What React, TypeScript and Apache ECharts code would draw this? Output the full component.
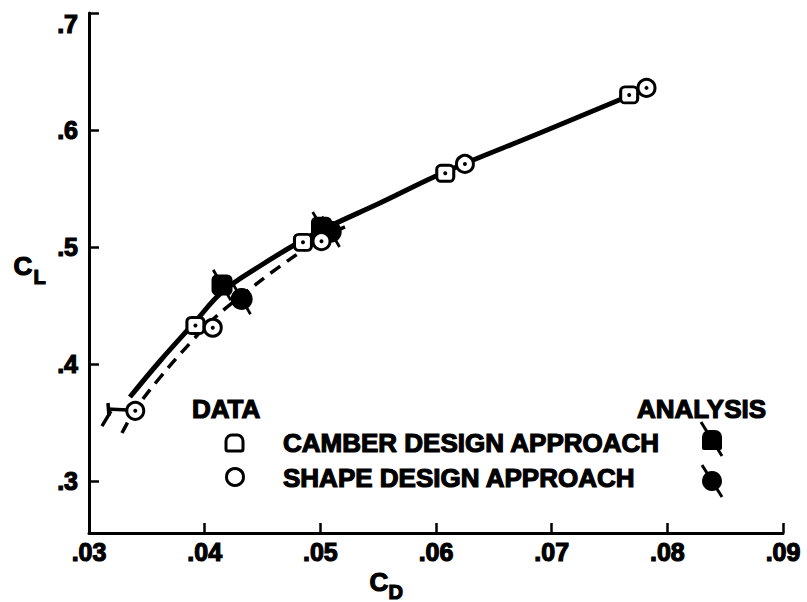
import React, { useEffect, useRef } from 'react';
import * as echarts from 'echarts';

// Axis ticks
const xTickValues = [0.03, 0.04, 0.05, 0.06, 0.07, 0.08, 0.09];
const xTickLabels = ['.03', '.04', '.05', '.06', '.07', '.08', '.09'];
const yTickValues = [0.3, 0.4, 0.5, 0.6, 0.7];
const yTickLabels = ['.3', '.4', '.5', '.6', '.7'];

// Data: camber design approach (open squares)
const camberCD = [0.0392, 0.0485, 0.0608, 0.0767];
const camberCL = [0.433, 0.504, 0.563, 0.63];
// Data: shape design approach (open circles)
const shapeCD = [0.034, 0.0407, 0.0501, 0.0625, 0.0782];
const shapeCL = [0.36, 0.431, 0.505, 0.571, 0.636];
// Analysis (filled, flagged)
const camberAnalysisCD = [0.0415, 0.0501];
const camberAnalysisCL = [0.4675, 0.517];
const shapeAnalysisCD = [0.0432, 0.0509];
const shapeAnalysisCL = [0.4556, 0.513];

// Faired curves
const solidCD = [0.03354, 0.03614, 0.03916, 0.0415, 0.04478, 0.0485, 0.05083, 0.05515, 0.06077, 0.06898, 0.07667];
const solidCL = [0.3718, 0.4026, 0.4359, 0.4615, 0.4838, 0.506, 0.5179, 0.5376, 0.5641, 0.5974, 0.6291];
const dashedCD = [0.03285, 0.03398, 0.03614, 0.03873, 0.04072, 0.04322, 0.04651, 0.04997, 0.05213];
const dashedCL = [0.341, 0.3607, 0.3885, 0.4178, 0.4382, 0.4587, 0.4835, 0.5063, 0.5172];

// Flag strokes at the lowest point (start/end pairs)
const flagStartCD = [0.03156, 0.0319, 0.03164];
const flagStartCL = [0.3615, 0.3598, 0.3667];
const flagEndCD = [0.03337, 0.03112, 0.03173];
const flagEndCL = [0.3607, 0.347, 0.3556];

const Y_MIN = 0.2556;
const Y_MAX = 0.7;
const X_MIN = 0.03;
const X_MAX = 0.09;

const FONT = 'Liberation Sans';
const TICK_FS = 25;

const zip = (a: number[], b: number[]) => a.map((v, i) => [v, b[i]]);

const labelFor = (vals: number[], labels: string[]) => (v: number) => {
  for (let i = 0; i < vals.length; i++) {
    if (Math.abs(vals[i] - v) < 1e-6) return labels[i];
  }
  return '';
};

const flagSymbol = 'path://M0 1.6 L2.6 0 L22 30.4 L19.4 32 Z';

export default function App() {
  const ref = useRef<HTMLDivElement>(null);
  useEffect(() => {
    if (!ref.current) return;
    const chart = echarts.init(ref.current, null, { renderer: 'svg' });
    const yLabel = labelFor(yTickValues, yTickLabels);
    const xLabel = labelFor(xTickValues, xTickLabels);
    const heavy = { stroke: '#000', lineWidth: 1.2 };
    const option: any = {
      animation: false,
      backgroundColor: '#fff',
      textStyle: { fontFamily: FONT, fontSize: TICK_FS, fontWeight: 'bold', color: '#000' },
      grid: { left: 89, top: 13, width: 694, height: 520, containLabel: false },
      xAxis: {
        type: 'value',
        min: X_MIN,
        max: X_MAX,
        interval: 0.01,
        axisLine: { show: true, onZero: false, lineStyle: { color: '#000', width: 3 } },
        axisTick: { show: true, inside: true, length: 10, lineStyle: { color: '#000', width: 2.5 } },
        axisLabel: {
          formatter: (v: number) => xLabel(v),
          color: '#000',
          fontSize: TICK_FS,
          fontWeight: 'bold',
          fontFamily: FONT,
          textBorderColor: '#000',
          textBorderWidth: 1.2,
          margin: 6,
          showMinLabel: true,
          showMaxLabel: true,
        },
        splitLine: { show: false },
      },
      yAxis: {
        type: 'value',
        min: Y_MIN,
        max: Y_MAX,
        splitNumber: 5,
        axisLine: { show: true, onZero: false, lineStyle: { color: '#000', width: 3 } },
        axisTick: { show: true, inside: true, length: 10, lineStyle: { color: '#000', width: 2.5 } },
        axisLabel: {
          formatter: (v: number) => (Math.abs(v - 0.7) < 1e-6 ? '{top|' + yLabel(v) + '}' : yLabel(v)),
          rich: {
            top: {
              fontSize: TICK_FS,
              fontWeight: 'bold',
              fontFamily: FONT,
              color: '#000',
              textBorderColor: '#000',
              textBorderWidth: 1.2,
              padding: [22, 0, 0, 0],
            },
          },
          color: '#000',
          fontSize: TICK_FS,
          fontWeight: 'bold',
          fontFamily: FONT,
          textBorderColor: '#000',
          textBorderWidth: 1.2,
          margin: 11,
          showMinLabel: true,
          showMaxLabel: true,
        },
        splitLine: { show: false },
      },
      series: [
        {
          type: 'line',
          data: zip(solidCD, solidCL),
          smooth: 0.4,
          symbol: 'none',
          lineStyle: { color: '#000', width: 5 },
          z: 2,
        },
        {
          type: 'line',
          data: zip(dashedCD, dashedCL),
          smooth: 0.4,
          symbol: 'none',
          lineStyle: { color: '#000', width: 3.5, type: [12, 8] },
          z: 2,
        },
        {
          type: 'lines',
          coordinateSystem: 'cartesian2d',
          data: flagStartCD.map((v, i) => ({
            coords: [
              [v, flagStartCL[i]],
              [flagEndCD[i], flagEndCL[i]],
            ],
          })),
          lineStyle: { color: '#000', width: 3.5, opacity: 1 },
          z: 2,
        },
        // analysis flags
        {
          type: 'scatter',
          data: zip(camberAnalysisCD, camberAnalysisCL).concat(zip(shapeAnalysisCD, shapeAnalysisCL)),
          symbol: flagSymbol,
          symbolSize: [20, 32],
          itemStyle: { color: '#000', opacity: 1 },
          z: 3,
        },
        {
          type: 'scatter',
          data: zip(camberAnalysisCD, camberAnalysisCL),
          symbol: 'roundRect',
          symbolSize: 21,
          itemStyle: { color: '#000', opacity: 1 },
          z: 3,
        },
        {
          type: 'scatter',
          data: zip(shapeAnalysisCD, shapeAnalysisCL),
          symbol: 'circle',
          symbolSize: 22,
          itemStyle: { color: '#000', opacity: 1 },
          z: 3,
        },
        {
          type: 'scatter',
          data: zip(camberCD, camberCL),
          symbol: 'roundRect',
          symbolSize: [17, 16],
          itemStyle: { color: '#fff', borderColor: '#000', borderWidth: 3, opacity: 1 },
          z: 4,
        },
        {
          type: 'scatter',
          data: zip(shapeCD, shapeCL),
          symbol: 'circle',
          symbolSize: 17,
          itemStyle: { color: '#fff', borderColor: '#000', borderWidth: 3, opacity: 1 },
          z: 4,
        },
        {
          type: 'scatter',
          data: zip(camberCD, camberCL).concat(zip(shapeCD, shapeCL)),
          symbol: 'circle',
          symbolSize: 4,
          itemStyle: { color: '#000', opacity: 1 },
          z: 5,
        },
      ],
      graphic: [
        // axis titles
        { type: 'text', left: 13, top: 252, style: { text: 'C', font: `bold 26px "${FONT}"`, fill: '#000', ...heavy } },
        { type: 'text', left: 33, top: 266, style: { text: 'L', font: `bold 20px "${FONT}"`, fill: '#000', ...heavy } },
        { type: 'text', left: 369, top: 568, style: { text: 'C', font: `bold 26px "${FONT}"`, fill: '#000', ...heavy } },
        { type: 'text', left: 388, top: 581, style: { text: 'D', font: `bold 20px "${FONT}"`, fill: '#000', ...heavy } },
        // legend
        { type: 'text', x: 192, y: 409, style: { text: 'DATA', font: `bold 26px "${FONT}"`, fill: '#000', verticalAlign: 'middle', ...heavy } },
        { type: 'text', x: 637, y: 409, style: { text: 'ANALYSIS', font: `bold 26px "${FONT}"`, fill: '#000', verticalAlign: 'middle', ...heavy } },
        { type: 'text', x: 283, y: 443, style: { text: 'CAMBER DESIGN APPROACH', font: `bold 26px "${FONT}"`, fill: '#000', verticalAlign: 'middle', ...heavy } },
        { type: 'text', x: 283, y: 478, style: { text: 'SHAPE DESIGN APPROACH', font: `bold 26px "${FONT}"`, fill: '#000', verticalAlign: 'middle', ...heavy } },
        {
          type: 'rect',
          shape: { x: 226, y: 435, width: 17, height: 16, r: [6, 6, 2, 2] },
          style: { fill: '#fff', stroke: '#000', lineWidth: 3 },
        },
        { type: 'circle', shape: { cx: 235, cy: 477, r: 8.5 }, style: { fill: '#fff', stroke: '#000', lineWidth: 3 } },
        { type: 'rect', shape: { x: 702, y: 430, width: 20, height: 20, r: [7, 7, 2, 2] }, style: { fill: '#000' } },
        { type: 'line', shape: { x1: 701, y1: 422, x2: 722, y2: 456 }, style: { stroke: '#000', lineWidth: 3 } },
        { type: 'circle', shape: { cx: 712, cy: 481, r: 10 }, style: { fill: '#000' } },
        { type: 'line', shape: { x1: 702, y1: 465, x2: 722, y2: 497 }, style: { stroke: '#000', lineWidth: 3 } },
      ],
    };
    chart.setOption(option);
    return () => chart.dispose();
  }, []);
  return (
    <div
      ref={ref}
      style={{ position: 'fixed', left: 0, top: 0, width: 807, height: 602, background: '#fff' }}
    />
  );
}
